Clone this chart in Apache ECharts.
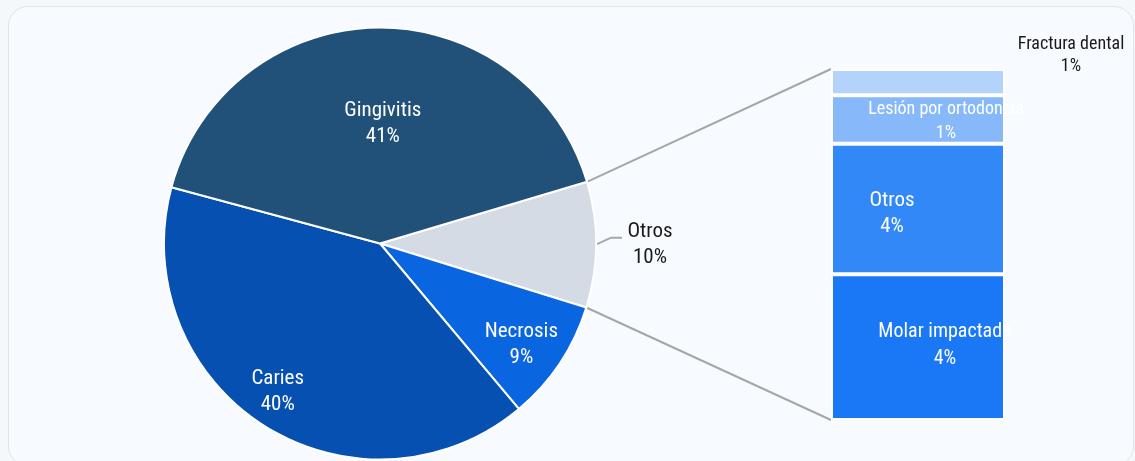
<!DOCTYPE html>
<html>
<head>
<meta charset="utf-8">
<script src="https://cdn.jsdelivr.net/npm/echarts@6/dist/echarts.min.js"></script>
<style>
  html, body { margin: 0; padding: 0; background: #f4f8fb; }
  #card { position: absolute; left: 8px; top: 6px; width: 1124px; height: 458px;
          background: #f7fbff; border: 1px solid #dfe5ec; border-radius: 20px; }
  #chart { position: absolute; left: 0; top: 0; width: 1135px; height: 461px; }
</style>
</head>
<body>
<div id="card"></div>
<div id="chart"></div>
<script>
// ---- data ----
const categories = ['Otros', 'Necrosis', 'Caries', 'Gingivitis'];
const pieValues = [9.4, 9.1, 40.3, 41.2];
const subCategories = ['Molar impactada', 'Otros', 'Lesión por ortodoncia', 'Fractura dental'];
const subValues = [3.9, 3.5, 1.3, 0.7];

// ---- styling / layout ----
const FONT = "'Roboto Condensed', 'Liberation Sans Narrow', 'DejaVu Sans Condensed', sans-serif";
const pieColors = ['#d5dbe4', '#0966e0', '#0550b0', '#215078'];
const subColors = ['#1a78f7', '#3388f8', '#86b8fa', '#b4d3fb'];
const PIE_CX = 380, PIE_CY = 243.5, PIE_R = 216, START = 16.6;
const GRID = { left: 831, top: 69, width: 174, height: 351 };
const labelRadius = { 'Gingivitis': 0.553, 'Caries': 0.833, 'Necrosis': 0.806 };
const labelTurn = 2.1; // degrees
const subLabelStyle = [
  { offset: [27, -2], fontSize: 20, lineHeight: 27, color: '#ffffff' },
  { offset: [-26, 5], fontSize: 21, lineHeight: 26, color: '#ffffff' },
  { offset: [28, 2], fontSize: 18, lineHeight: 24, color: '#ffffff' },
  { offset: [153, -27], fontSize: 18, lineHeight: 22, color: '#1a1a1a' }
];

const pieSum = pieValues.reduce((a, b) => a + b, 0);
const subSum = subValues.reduce((a, b) => a + b, 0);

const pieData = categories.map((name, i) => {
  const item = { name: name, value: pieValues[i], itemStyle: { color: pieColors[i] } };
  if (name === 'Otros') {
    item.label = {
      position: 'outside', color: '#1a1a1a',
      formatter: '{c|{b}}\n{c|{d}%}',
      rich: { c: { width: 46, align: 'center', fontSize: 21, lineHeight: 26, fontFamily: FONT, color: '#1a1a1a' } }
    };
    item.labelLine = { show: true, length: 15, length2: 11, lineStyle: { color: '#a6a6a6', width: 2 } };
  }
  return item;
});

const barSeries = subCategories.map((name, i) => ({
  name: name,
  type: 'bar',
  stack: 'sub',
  barWidth: '100%',
  data: [subValues[i]],
  itemStyle: { color: subColors[i], borderColor: '#ffffff', borderWidth: 2 },
  label: {
    show: true, position: 'inside',
    offset: subLabelStyle[i].offset,
    fontSize: subLabelStyle[i].fontSize,
    lineHeight: subLabelStyle[i].lineHeight,
    color: subLabelStyle[i].color,
    fontFamily: FONT,
    formatter: p => p.seriesName + '\n' + Math.round(p.value) + '%'
  },
  emphasis: { disabled: true },
  silent: true
}));

// connector lines from the "Otros" slice edges to the stacked bar corners
const otrosIdx = categories.indexOf('Otros');
let angAcc = START;
for (let i = 0; i < otrosIdx; i++) angAcc -= 360 * pieValues[i] / pieSum;
const aTop = angAcc * Math.PI / 180;
const aBot = (angAcc - 360 * pieValues[otrosIdx] / pieSum) * Math.PI / 180;

const chart = echarts.init(document.getElementById('chart'), null, { renderer: 'canvas' });
const option = {
  backgroundColor: 'transparent',
  animation: false,
  textStyle: { fontFamily: FONT },
  grid: { left: GRID.left, top: GRID.top, width: GRID.width, height: GRID.height },
  xAxis: { type: 'category', data: ['Otros'], show: false },
  yAxis: { type: 'value', min: 0, max: subSum, show: false },
  series: [
    {
      type: 'pie',
      center: [PIE_CX, PIE_CY],
      radius: [0, PIE_R],
      startAngle: START,
      clockwise: true,
      percentPrecision: 0,
      data: pieData,
      itemStyle: { borderColor: '#ffffff', borderWidth: 2 },
      label: {
        show: true, position: 'inside', color: '#ffffff',
        fontSize: 21, lineHeight: 26, fontFamily: FONT,
        formatter: '{b}\n{d}%'
      },
      labelLine: { show: false },
      labelLayout: function (params) {
        const name = categories[params.dataIndex];
        const f = labelRadius[name];
        if (!f) {
          const p = params.labelLinePoints;
          if (!p) return {};
          const p0 = p[0];
          const p1 = [p0[0] + 15, p0[1] - 7];
          const p2 = [p1[0] + 11, p1[1]];
          return { labelLinePoints: [p0, p1, p2] };
        }
        const r = params.labelRect;
        const lx = r.x + r.width / 2, ly = r.y + r.height / 2;
        const th = Math.atan2(ly - PIE_CY, lx - PIE_CX) + labelTurn * Math.PI / 180;
        return { x: PIE_CX + PIE_R * f * Math.cos(th), y: PIE_CY + PIE_R * f * Math.sin(th) };
      },
      emphasis: { disabled: true },
      silent: true
    }
  ].concat(barSeries),
  graphic: [
    {
      type: 'line', silent: true,
      shape: { x1: PIE_CX + PIE_R * Math.cos(aTop), y1: PIE_CY - PIE_R * Math.sin(aTop), x2: GRID.left, y2: GRID.top },
      style: { stroke: '#a6a6a6', lineWidth: 2 }
    },
    {
      type: 'line', silent: true,
      shape: { x1: PIE_CX + PIE_R * Math.cos(aBot), y1: PIE_CY - PIE_R * Math.sin(aBot), x2: GRID.left, y2: GRID.top + GRID.height },
      style: { stroke: '#a6a6a6', lineWidth: 2 }
    }
  ]
};
chart.setOption(option);
</script>
</body>
</html>
